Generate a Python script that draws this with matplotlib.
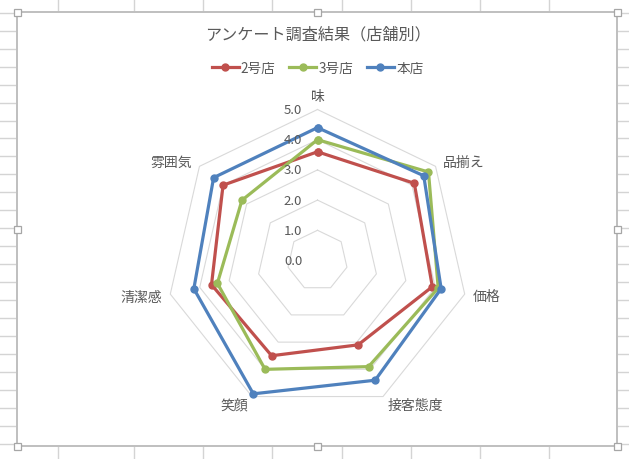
import numpy as np
import matplotlib.pyplot as plt
from matplotlib.lines import Line2D
from matplotlib.patches import Rectangle

plt.rcParams['font.family'] = ['Noto Sans CJK JP', 'DejaVu Sans']

# data
categories = ['味', '品揃え', '価格', '接客態度', '笑顔', '清潔感', '雰囲気']
series_names = ['2号店', '3号店', '本店']
store2 = [3.6, 4.1, 3.9, 3.1, 3.5, 3.6, 4.0]
store3 = [4.0, 4.7, 4.1, 3.9, 4.0, 3.4, 3.2]
honten = [4.4, 4.5, 4.2, 4.4, 4.9, 4.2, 4.4]
ticks = [0, 1, 2, 3, 4, 5]
title = 'アンケート調査結果（店舗別）'

colors = ['#C0504D', '#9BBB59', '#4F81BD']
text_color = '#595959'
grid_color = '#D9D9D9'

W, H = 629, 460
fig = plt.figure(figsize=(W / 100, H / 100), dpi=100)

# excel sheet background (pixel coords)
bg = fig.add_axes([0, 0, 1, 1])
bg.set_xlim(0, W)
bg.set_ylim(H, 0)
bg.axis('off')
col_x = [58, 134, 203, 272, 341.5, 411, 480, 548.5]
for x in col_x:
    bg.axvline(x, color='#D4D4D4', lw=1)
for k in range(26):
    bg.axhline(13.7 + 17.97 * k, color='#D4D4D4', lw=1)
bg.add_patch(Rectangle((17, 13), 600, 434, facecolor='white',
                       edgecolor='#BFBFBF', lw=1.4, zorder=3))
for hx, hy in [(17, 13), (317, 13), (617, 13), (17, 230), (617, 230),
               (17, 447), (317, 447), (617, 447)]:
    bg.add_patch(Rectangle((hx - 3.5, hy - 3.5), 7, 7, facecolor='white',
                           edgecolor='#A6A6A6', lw=0.9, zorder=4))

# radar
cx, cy, R = 317.5, 261.5, 151
ax = fig.add_axes([(cx - R) / W, (H - cy - R) / H, 2 * R / W, 2 * R / H],
                  projection='polar')
ax.set_theta_zero_location('N')
ax.set_theta_direction(-1)
ax.set_ylim(0, 5)
ax.grid(False)
ax.spines['polar'].set_visible(False)
ax.set_xticks([])
ax.set_yticks([])
ax.patch.set_alpha(0)

n = len(categories)
ang = np.arange(n) * 2 * np.pi / n
ang_c = np.append(ang, ang[0])

for r in ticks[1:]:
    ax.plot(ang_c, [r] * (n + 1), color=grid_color, lw=0.8, clip_on=False,
            zorder=1)

for vals, c in zip([store2, store3, honten], colors):
    v = np.append(vals, vals[0])
    ax.plot(ang_c, v, color=c, lw=2.3, marker='o', markersize=5,
            clip_on=False, zorder=3)

for r in ticks:
    ax.annotate('%.1f' % r, xy=(0, r), xytext=(-11, 0),
                textcoords='offset points', ha='right', va='center',
                fontsize=9.5, color=text_color)

offsets = [(0, 5, 'center', 'bottom'), (5, 3, 'left', 'center'),
           (6, -1, 'left', 'center'), (3, -6, 'left', 'center'),
           (-3, -6, 'right', 'center'), (-6, -2, 'right', 'center'),
           (-5, 3, 'right', 'center')]
for a, lab, (dx, dy, ha, va) in zip(ang, categories, offsets):
    ax.annotate(lab, xy=(a, 5), xytext=(dx, dy), textcoords='offset points',
                ha=ha, va=va, fontsize=10, color=text_color,
                annotation_clip=False)

fig.text(cx / W, 1 - 35 / H, title, ha='center', va='center',
         fontsize=11.6, color=text_color)

handles = [Line2D([], [], color=c, lw=2.3, marker='o', markersize=5)
           for c in colors]
fig.legend(handles, series_names, loc='center', bbox_to_anchor=(cx / W, 1 - 69 / H),
           ncol=3, frameon=False, fontsize=9.8, handlelength=2.0,
           handletextpad=0.15, columnspacing=1.0, labelcolor=text_color)

fig.savefig('out.png', dpi=100)
